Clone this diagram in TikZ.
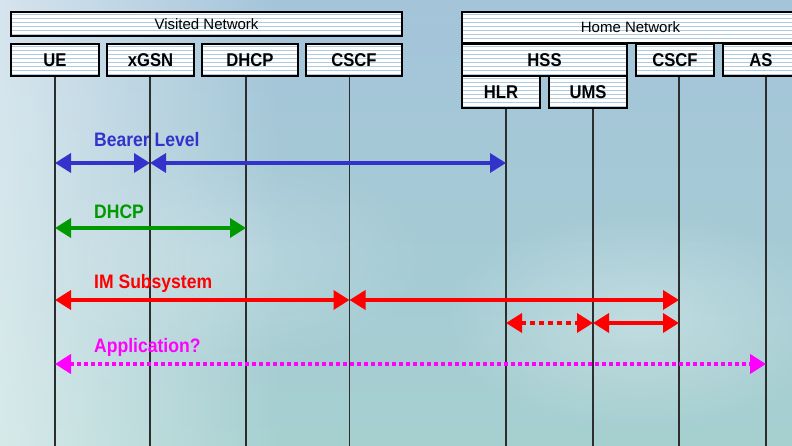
\documentclass[tikz,border=0pt]{standalone}
\usepackage{fontspec}
\setmainfont{Liberation Sans}
\newfontfamily\lblfont[FakeStretch=0.9]{Liberation Sans}
\usetikzlibrary{arrows.meta,fadings}

\definecolor{bearerblue}{RGB}{51,51,204}
\definecolor{dhcpgreen}{RGB}{0,153,0}
\definecolor{imred}{RGB}{255,0,0}
\definecolor{appmagenta}{RGB}{255,0,255}
\definecolor{stripecol}{RGB}{176,202,222}
\definecolor{lifecol}{RGB}{45,45,45}
\definecolor{skytop}{RGB}{164,196,218}
\definecolor{skymid}{RGB}{186,212,224}
\definecolor{skybot}{RGB}{166,208,208}

% soft radial glow for the cloud patches
\tikzfading[name=softglow, inner color=transparent!30, outer color=transparent!100]

\tikzset{
  netbox/.style={draw=black, line width=1.3pt, fill=white, inner sep=0pt,
    font=\lblfont\bfseries\fontsize{18.5}{20}\selectfont,
    path picture={
      \foreach \k in {0,...,9}{
        \draw[stripecol, line width=0.9pt]
          ([yshift=-2pt-4pt*\k]path picture bounding box.north west) --
          ([yshift=-2pt-4pt*\k]path picture bounding box.north east);
      }
    }},
  areabox/.style={netbox, font=\fontsize{15}{17}\selectfont},
  lifeline/.style={draw=lifecol, line width=1.4pt},
  signal/.style={line width=3.5pt, {Triangle[length=16pt,width=19pt]}-{Triangle[length=16pt,width=19pt]}},
  siglabel/.style={anchor=base west, inner sep=0pt,
    font=\lblfont\bfseries\fontsize{19.5}{22}\selectfont},
}

\begin{document}
\begin{tikzpicture}[x=1pt,y=-1pt]
  \useasboundingbox (0,0) rectangle (792,446);
  \clip (0,0) rectangle (792,446);

  % sky background
  \shade[top color=skytop, middle color=skymid, bottom color=skybot] (0,0) rectangle (792,446);
  \fill[white, opacity=0.55, path fading=east] (0,0) rectangle (280,446);
  \fill[white, opacity=0.45, path fading=softglow] (640,320) ellipse (200 and 110);
  \fill[white, opacity=0.3, path fading=softglow] (230,260) ellipse (200 and 110);

  % visited network
  \node[areabox, minimum width=391pt, minimum height=24pt] (visited) at (206.5,24) {Visited Network};
  \node[netbox, minimum width=88pt, minimum height=32pt] (ue)   at (55,60)    {UE};
  \node[netbox, minimum width=87pt, minimum height=32pt] (xgsn) at (150.5,60) {xGSN};
  \node[netbox, minimum width=96pt, minimum height=32pt] (dhcp) at (250,60)   {DHCP};
  \node[netbox, minimum width=96pt, minimum height=32pt] (vcscf) at (354,60)  {CSCF};

  % home network
  \node[areabox, minimum width=337pt, minimum height=31pt] (home) at (630.5,27.5) {Home Network};
  \node[netbox, minimum width=165pt, minimum height=32pt] (hss)  at (544.5,60) {HSS};
  \node[netbox, minimum width=78pt, minimum height=32pt] (hlr)   at (501,92)   {HLR};
  \node[netbox, minimum width=78pt, minimum height=32pt] (ums)   at (588,92)   {UMS};
  \node[netbox, minimum width=78pt, minimum height=32pt] (hcscf) at (675,60)   {CSCF};
  \node[netbox, minimum width=76pt, minimum height=32pt] (as)    at (761,60)   {AS};

  % lifeline tops
  \coordinate (ueL)    at (ue.south);
  \coordinate (xgsnL)  at ([xshift=-0.5pt]xgsn.south);
  \coordinate (dhcpL)  at ([xshift=-4pt]dhcp.south);
  \coordinate (vcscfL) at ([xshift=-4.5pt]vcscf.south);
  \coordinate (hlrL)   at ([xshift=5pt]hlr.south);
  \coordinate (umsL)   at ([xshift=5pt]ums.south);
  \coordinate (hcscfL) at ([xshift=4pt]hcscf.south);
  \coordinate (asL)    at ([xshift=5pt]as.south);
  \coordinate (bottom) at (0,446);

  \foreach \l in {ueL,xgsnL,dhcpL,vcscfL,hlrL,umsL,hcscfL,asL}{
    \draw[lifeline] (\l) -- (\l |- bottom);
  }

  % signalling rows
  \coordinate (rowB) at (0,163);
  \coordinate (rowD) at (0,228);
  \coordinate (rowI) at (0,300);
  \coordinate (rowU) at (0,323);
  \coordinate (rowA) at (0,364);

  \node[siglabel, text=bearerblue] (lblB) at (94,147) {Bearer Level};
  \draw[signal, bearerblue] (ueL |- rowB) -- (xgsnL |- rowB);
  \draw[signal, bearerblue] (xgsnL |- rowB) -- (hlrL |- rowB);

  \node[siglabel, text=dhcpgreen] (lblD) at (94,219) {DHCP};
  \draw[signal, dhcpgreen] (ueL |- rowD) -- (dhcpL |- rowD);

  \node[siglabel, text=imred] (lblI) at (94,288) {IM Subsystem};
  \draw[signal, imred] (ueL |- rowI) -- (vcscfL |- rowI);
  \draw[signal, imred] (vcscfL |- rowI) -- (hcscfL |- rowI);
  \draw[signal, imred, dash pattern=on 5pt off 4pt] (hlrL |- rowU) -- (umsL |- rowU);
  \draw[signal, imred] (umsL |- rowU) -- (hcscfL |- rowU);

  \node[siglabel, text=appmagenta] (lblA) at (94,352) {Application?};
  \draw[signal, appmagenta, line width=4pt, dash pattern=on 4pt off 3pt] (ueL |- rowA) -- (asL |- rowA);
\end{tikzpicture}
\end{document}
